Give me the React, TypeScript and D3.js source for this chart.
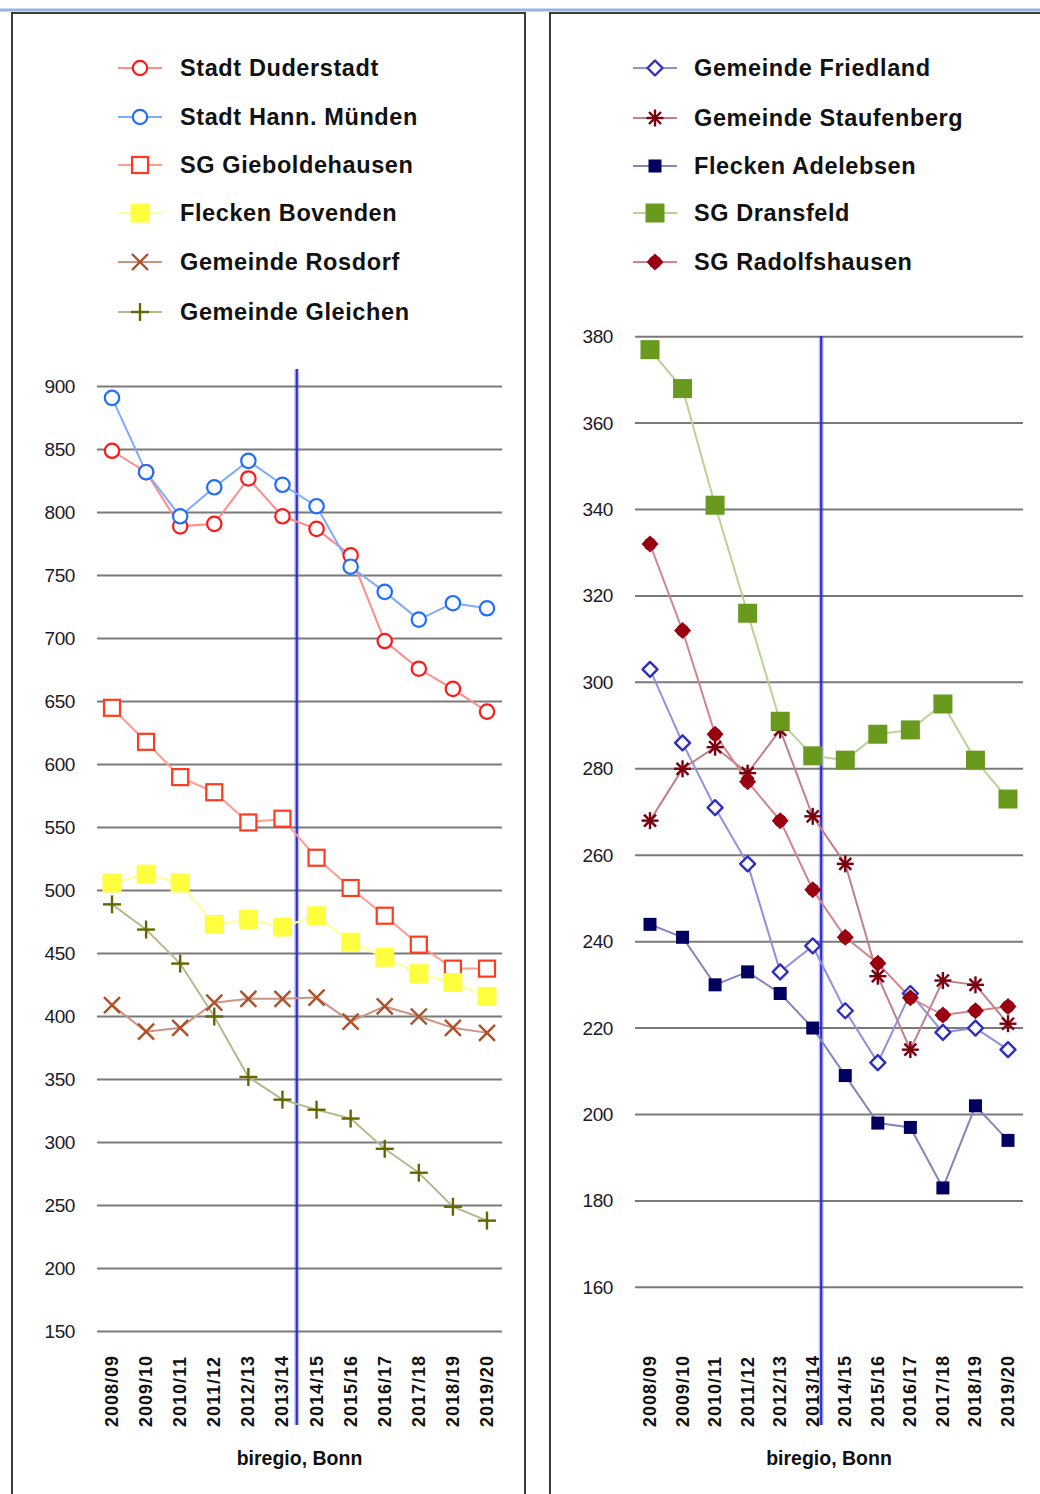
import React from "react";
import * as d3 from "d3";

const years = ["2008/09", "2009/10", "2010/11", "2011/12", "2012/13", "2013/14", "2014/15", "2015/16", "2016/17", "2017/18", "2018/19", "2019/20"];

// left panel
const duderstadt = [849, 832, 789, 791, 827, 797, 787, 766, 698, 676, 660, 642];
const hannMuenden = [891, 832, 797, 820, 841, 822, 805, 757, 737, 715, 728, 724];
const gieboldehausen = [645, 618, 590, 578, 554, 557, 526, 502, 480, 457, 438, 438];
const bovenden = [506, 513, 506, 473, 477, 471, 480, 459, 447, 434, 427, 416];
const rosdorf = [409, 388, 391, 411, 414, 414, 415, 396, 408, 400, 391, 387];
const gleichen = [489, 469, 442, 400, 352, 334, 326, 319, 295, 276, 249, 238];
const leftTicks = [150, 200, 250, 300, 350, 400, 450, 500, 550, 600, 650, 700, 750, 800, 850, 900];

// right panel
const friedland = [303, 286, 271, 258, 233, 239, 224, 212, 228, 219, 220, 215];
const staufenberg = [268, 280, 285, 279, 289, 269, 258, 232, 215, 231, 230, 221];
const adelebsen = [244, 241, 230, 233, 228, 220, 209, 198, 197, 183, 202, 194];
const dransfeld = [377, 368, 341, 316, 291, 283, 282, 288, 289, 295, 282, 273];
const radolfshausen = [332, 312, 288, 277, 268, 252, 241, 235, 227, 223, 224, 225];
const rightTicks = [160, 180, 200, 220, 240, 260, 280, 300, 320, 340, 360, 380];

const source = "biregio, Bonn";
const markerYear = "2013/14";

type S = { name: string; data: number[]; type: string; color: string; line: string };

const leftSeries: S[] = [
  { name: "Stadt Duderstadt", data: duderstadt, type: "circle", color: "#ff1a1a", line: "#ff8c8c" },
  { name: "Stadt Hann. Münden", data: hannMuenden, type: "circle", color: "#1f6fff", line: "#7eabff" },
  { name: "SG Gieboldehausen", data: gieboldehausen, type: "square", color: "#ff3b1f", line: "#ff9c8e" },
  { name: "Flecken Bovenden", data: bovenden, type: "fsquare", color: "#ffff40", line: "#ffff9a" },
  { name: "Gemeinde Rosdorf", data: rosdorf, type: "x", color: "#b0502a", line: "#cc9482" },
  { name: "Gemeinde Gleichen", data: gleichen, type: "plus", color: "#666600", line: "#b8b88c" },
];

const rightSeries: S[] = [
  { name: "Gemeinde Friedland", data: friedland, type: "diamond", color: "#3030c0", line: "#9090e0" },
  { name: "Gemeinde Staufenberg", data: staufenberg, type: "star", color: "#7a0010", line: "#c08088" },
  { name: "Flecken Adelebsen", data: adelebsen, type: "nsquare", color: "#000060", line: "#8484bc" },
  { name: "SG Dransfeld", data: dransfeld, type: "gsquare", color: "#699a1e", line: "#b6d492" },
  { name: "SG Radolfshausen", data: radolfshausen, type: "fdiamond", color: "#990010", line: "#d4848c" },
];

const FONT = "'Liberation Sans', Arial, sans-serif";

function Marker({ type, x, y, color }: { type: string; x: number; y: number; color: string }) {
  switch (type) {
    case "circle":
      return <circle cx={x} cy={y} r={7.2} fill="#fff" stroke={color} strokeWidth={2.2} />;
    case "square":
      return <rect x={x - 8} y={y - 8} width={16} height={16} fill="#fff" stroke={color} strokeWidth={2.2} />;
    case "fsquare":
      return <rect x={x - 9.5} y={y - 9.5} width={19} height={19} fill={color} />;
    case "gsquare":
      return <rect x={x - 9.5} y={y - 9.5} width={19} height={19} fill={color} />;
    case "nsquare":
      return <rect x={x - 6.5} y={y - 6.5} width={13} height={13} fill={color} />;
    case "x": {
      const s = 8;
      return (
        <g stroke={color} strokeWidth={2.4}>
          <line x1={x - s} y1={y - s} x2={x + s} y2={y + s} />
          <line x1={x - s} y1={y + s} x2={x + s} y2={y - s} />
        </g>
      );
    }
    case "plus": {
      const s = 9;
      return (
        <g stroke={color} strokeWidth={2.4}>
          <line x1={x - s} y1={y} x2={x + s} y2={y} />
          <line x1={x} y1={y - s} x2={x} y2={y + s} />
        </g>
      );
    }
    case "diamond": {
      const s = 7.5;
      return (
        <path d={`M${x},${y - s}L${x + s},${y}L${x},${y + s}L${x - s},${y}Z`} fill="#fff" stroke={color} strokeWidth={2.4} strokeLinejoin="round" />
      );
    }
    case "fdiamond": {
      const s = 8.5;
      return (
        <g fill={color}>
          <circle cx={x} cy={y} r={6.5} />
          <path d={`M${x},${y - s}L${x + s},${y}L${x},${y + s}L${x - s},${y}Z`} />
        </g>
      );
    }
    case "star": {
      const s = 8.5;
      const d = 6;
      return (
        <g stroke={color} strokeWidth={2.4}>
          <line x1={x} y1={y - s} x2={x} y2={y + s} />
          <line x1={x - s} y1={y} x2={x + s} y2={y} />
          <line x1={x - d} y1={y - d} x2={x + d} y2={y + d} />
          <line x1={x - d} y1={y + d} x2={x + d} y2={y - d} />
        </g>
      );
    }
  }
  return null;
}

type PanelCfg = {
  series: S[];
  ticks: number[];
  domain: [number, number];
  yRange: [number, number];
  xRange: [number, number];
  gridX: [number, number];
  labelX: number;
  vFrac: number;
  vTop: number;
  legendMarkerX: number;
  legendTextX: number;
  legendY: number[];
};

function Panel({ cfg }: { cfg: PanelCfg }) {
  const x = d3.scalePoint<string>().domain(years).range(cfg.xRange);
  const y = d3.scaleLinear().domain(cfg.domain).range(cfg.yRange);
  const step = x.step();
  const vx = (x(markerYear) as number) + step * cfg.vFrac;
  const line = d3
    .line<number>()
    .x((_, i) => x(years[i]) as number)
    .y((d) => y(d));
  const cx = (cfg.gridX[0] + cfg.gridX[1]) / 2;
  return (
    <g>
      {/* legend */}
      {cfg.series.map((s, i) => (
        <g key={s.name}>
          <line x1={cfg.legendMarkerX - 22} x2={cfg.legendMarkerX + 22} y1={cfg.legendY[i]} y2={cfg.legendY[i]} stroke={s.line} strokeWidth={2} />
          <Marker type={s.type} x={cfg.legendMarkerX} y={cfg.legendY[i]} color={s.color} />
          <text x={cfg.legendTextX} y={cfg.legendY[i]} dominantBaseline="central" fontFamily={FONT} fontWeight="bold" fontSize={23.5} letterSpacing={0.6} fill="#111">
            {s.name}
          </text>
        </g>
      ))}
      {/* grid */}
      {cfg.ticks.map((t) => (
        <g key={t}>
          <line x1={cfg.gridX[0]} x2={cfg.gridX[1]} y1={y(t)} y2={y(t)} stroke="#7a7a7a" strokeWidth={2} />
          <text x={cfg.labelX} y={y(t)} textAnchor="end" dominantBaseline="central" fontFamily={FONT} fontSize={19} letterSpacing={-0.4} fill="#1a1a2a">
            {t}
          </text>
        </g>
      ))}
      {/* vertical marker line */}
      <line x1={vx} x2={vx} y1={cfg.vTop} y2={1425} stroke="#3838d8" strokeOpacity={0.3} strokeWidth={5} />
      <line x1={vx} x2={vx} y1={cfg.vTop} y2={1425} stroke="#3030d0" strokeWidth={2.2} />
      {/* lines */}
      {cfg.series.map((s) => (
        <path key={s.name} d={line(s.data) || ""} fill="none" stroke={s.line} strokeWidth={2} />
      ))}
      {/* markers */}
      {cfg.series.map((s) => (
        <g key={s.name}>
          {s.data.map((v, i) => (
            <Marker key={i} type={s.type} x={x(years[i]) as number} y={y(v)} color={s.color} />
          ))}
        </g>
      ))}
      {/* x labels */}
      {years.map((yr) => (
        <text key={yr} transform={`translate(${x(yr)},1427) rotate(-90)`} textAnchor="start" dominantBaseline="central" fontFamily={FONT} fontWeight="bold" fontSize={18} letterSpacing={1} fill="#111">
          {yr}
        </text>
      ))}
      <text x={cx} y={1458} textAnchor="middle" dominantBaseline="central" fontFamily={FONT} fontWeight="bold" fontSize={19.5} fill="#111">
        {source}
      </text>
    </g>
  );
}

export default function App() {
  const left: PanelCfg = {
    series: leftSeries,
    ticks: leftTicks,
    domain: [150, 900],
    yRange: [1331.5, 386.5],
    xRange: [112, 487],
    gridX: [97, 502],
    labelX: 75,
    vFrac: 0.42,
    vTop: 369,
    legendMarkerX: 140,
    legendTextX: 180,
    legendY: [68, 117, 165, 213, 262, 312],
  };
  const right: PanelCfg = {
    series: rightSeries,
    ticks: rightTicks,
    domain: [160, 380],
    yRange: [1287.3, 336.7],
    xRange: [650, 1008],
    gridX: [635, 1023],
    labelX: 613,
    vFrac: 0.26,
    vTop: 336,
    legendMarkerX: 655,
    legendTextX: 694,
    legendY: [68, 118, 166, 213, 262],
  };
  return (
    <svg width={1040} height={1494} style={{ position: "absolute", left: 0, top: 0, background: "#fff" }}>
      <rect x={0} y={0} width={1040} height={1494} fill="#fff" />
      <line x1={0} x2={1040} y1={10} y2={10} stroke="#95b5dc" strokeWidth={3} />
      <rect x={12} y={13} width={513} height={1500} fill="none" stroke="#3c3c3c" strokeWidth={2} />
      <rect x={550} y={13} width={520} height={1500} fill="none" stroke="#3c3c3c" strokeWidth={2} />
      <Panel cfg={left} />
      <Panel cfg={right} />
    </svg>
  );
}
